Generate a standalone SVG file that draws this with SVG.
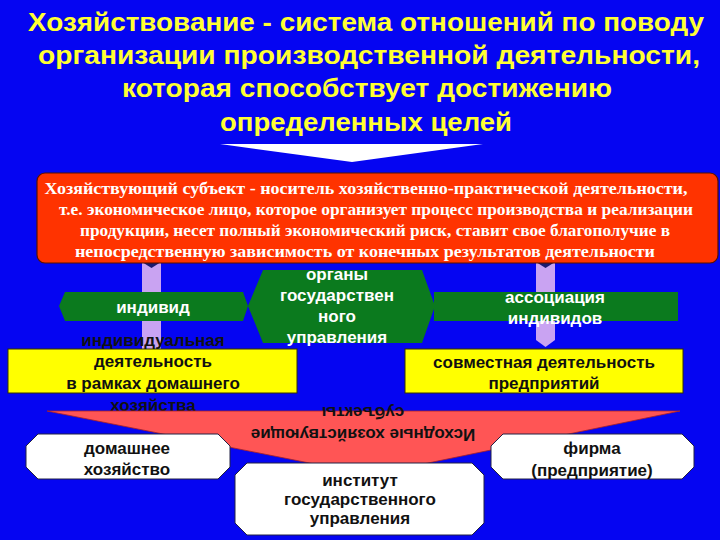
<svg xmlns="http://www.w3.org/2000/svg" width="720" height="540" viewBox="0 0 720 540">
<style>
.title{font-family:"Liberation Sans",Arial,sans-serif;font-weight:bold;font-size:25px;fill:#ffff33;text-anchor:middle}
.red{font-family:"Liberation Serif","Times New Roman",serif;font-weight:bold;font-size:17px;fill:#ffffff;text-anchor:middle}
.wt{font-family:"Liberation Sans",Arial,sans-serif;font-weight:bold;font-size:17px;fill:#ffffff;text-anchor:middle}
.dk{font-family:"Liberation Sans",Arial,sans-serif;font-weight:bold;font-size:17px;fill:#111111;text-anchor:middle}
.green{fill:#0b7a1e}
.purple{fill:#c9a3f2}
.yellow{fill:#ffff00;stroke:#333300;stroke-width:1}
.white{fill:#ffffff;stroke:#222244;stroke-width:1}
</style>
<rect x="0" y="0" width="720" height="540" fill="#0505f2"/>

<g id="title">
<text class="title" x="366" y="31" textLength="676" lengthAdjust="spacingAndGlyphs">Хозяйствование - система отношений по поводу</text>
<text class="title" x="369" y="64" textLength="662" lengthAdjust="spacingAndGlyphs">организации производственной деятельности,</text>
<text class="title" x="367" y="97" textLength="490" lengthAdjust="spacingAndGlyphs">которая способствует достижению</text>
<text class="title" x="366" y="131" textLength="292" lengthAdjust="spacingAndGlyphs">определенных целей</text>
</g>

<g id="connectors">
<polygon points="220,144 483,144 352,162" fill="#ffffff"/>
<polygon class="purple" points="142,258 161,258 161,352 142,352"/>
<polygon points="142,262 151.5,268 161,262" fill="#1b1b70"/>
<polygon class="purple" points="536,258 555,258 555,340 545.5,347 536,340"/>
<polygon points="536,262 545.5,268 555,262" fill="#1b1b70"/>
</g>

<g id="subject">
<rect x="37" y="173" width="681" height="90" rx="8" fill="#ff3300" stroke="#551100" stroke-width="1.2"/>
<text class="red" x="366" y="194" textLength="643" lengthAdjust="spacingAndGlyphs">Хозяйствующий субъект - носитель хозяйственно-практической деятельности,</text>
<text class="red" x="376" y="215" textLength="634" lengthAdjust="spacingAndGlyphs">т.е. экономическое лицо, которое организует процесс производства и реализации</text>
<text class="red" x="375" y="236" textLength="590" lengthAdjust="spacingAndGlyphs">продукции, несет полный экономический риск, ставит свое благополучие в</text>
<text class="red" x="365" y="257" textLength="580" lengthAdjust="spacingAndGlyphs">непосредственную зависимость от конечных результатов деятельности</text>
</g>

<g id="individ">
<polygon class="green" points="65,292 243,292 248,306 243,321 65,321 59,306"/>
<text class="wt" x="153" y="313">индивид</text>
</g>

<g id="organy">
<polygon class="green" points="263,270 422,270 435,306 422,343 263,343 248,306"/>
<text class="wt" x="337" y="280">органы</text>
<text class="wt" x="337" y="301">государствен</text>
<text class="wt" x="337" y="322">ного</text>
<text class="wt" x="337" y="343">управления</text>
</g>

<g id="associacia">
<rect class="green" x="434" y="292" width="244" height="29"/>
<text class="wt" x="555" y="303">ассоциация</text>
<text class="wt" x="555" y="324">индивидов</text>
</g>

<g id="ind-activity">
<rect class="yellow" x="8" y="349" width="289" height="44"/>
<text class="dk" x="153" y="346">индивидуальная</text>
<text class="dk" x="153" y="367">деятельность</text>
<text class="dk" x="153" y="389">в рамках домашнего</text>
<text class="dk" x="153" y="411">хозяйства</text>
</g>

<g id="joint-activity">
<rect class="yellow" x="405" y="349" width="278" height="44"/>
<text class="dk" x="544" y="368">совместная деятельность</text>
<text class="dk" x="544" y="389">предприятий</text>
</g>

<g id="funnel">
<polygon points="47,411 680,411 370,475" fill="#ff5555" stroke="#aa2222" stroke-width="0.8"/>
<g transform="rotate(180 363 424)">
<text class="dk" x="363" y="419" font-size="18">Исходные хозяйствующие</text>
<text class="dk" x="363" y="441" font-size="18">субъекты</text>
</g>
</g>

<g id="household">
<polygon class="white" points="38,434 218,434 230,446 230,467 218,479 38,479 26,467 26,446"/>
<text class="dk" x="127" y="454">домашнее</text>
<text class="dk" x="127" y="475">хозяйство</text>
</g>

<g id="firm">
<polygon class="white" points="503,434 682,434 694,446 694,467 682,479 503,479 491,467 491,446"/>
<text class="dk" x="592" y="454">фирма</text>
<text class="dk" x="592" y="476">(предприятие)</text>
</g>

<g id="institute">
<polygon class="white" points="247,463 472,463 484,475 484,523 472,535 247,535 235,523 235,475"/>
<text class="dk" x="360" y="486">институт</text>
<text class="dk" x="360" y="505">государственного</text>
<text class="dk" x="360" y="524">управления</text>
</g>
</svg>
